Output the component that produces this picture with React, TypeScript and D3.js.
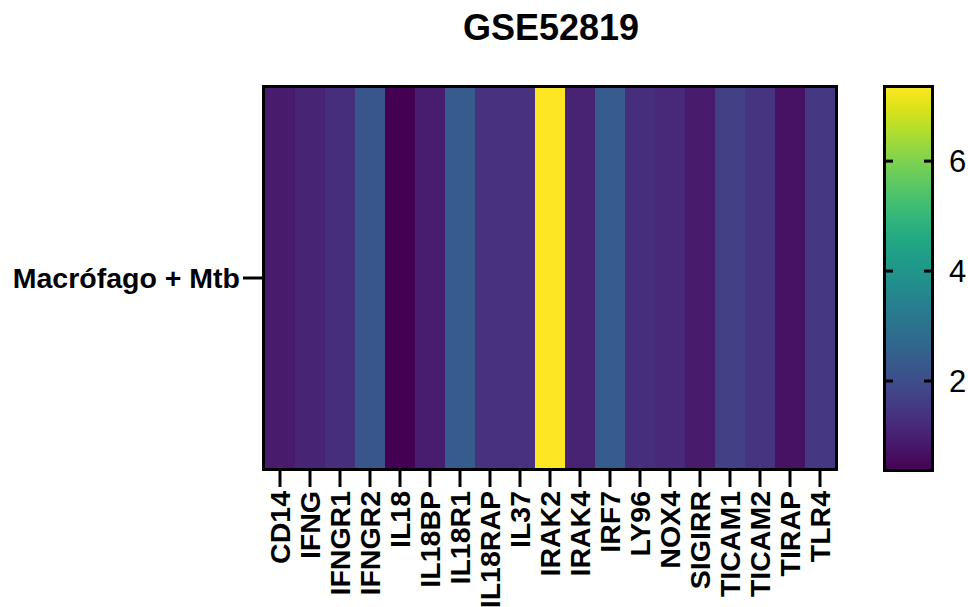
import React from 'react';
import * as d3 from 'd3';

// genes on the x axis
const genes = [
  'CD14', 'IFNG', 'IFNGR1', 'IFNGR2', 'IL18', 'IL18BP', 'IL18R1', 'IL18RAP', 'IL37', 'IRAK2',
  'IRAK4', 'IRF7', 'LY96', 'NOX4', 'SIGIRR', 'TICAM1', 'TICAM2', 'TIRAP', 'TLR4',
];
const rows = ['Macrófago + Mtb'];
const values = [0.9, 1.1, 1.3, 2.25, 0.42, 0.95, 2.4, 1.4, 1.4, 7.33, 1.05, 2.4, 1.3, 1.2, 0.9, 1.75, 1.45, 0.7, 1.5];
const colorDomain = [0.4, 7.33];
const colorTicks = [2, 4, 6];

const W = 968;
const H = 607;
const font = '"Liberation Sans", Arial, Helvetica, sans-serif';

const App = () => {
  const x = d3.scaleBand().domain(genes).range([265, 835]);
  const y = d3.scaleBand().domain(rows).range([88, 468]);
  const color = d3.scaleSequential(d3.interpolateViridis).domain(colorDomain);
  const cb = d3.scaleLinear().domain(colorDomain).range([469, 88]);

  const stops = d3.range(0, 1.0001, 0.05);

  return (
    <svg width={W} height={H} style={{ display: 'block', position: 'absolute', left: 0, top: 0 }}>
      <defs>
        <linearGradient id="cbar" x1="0%" y1="100%" x2="0%" y2="0%">
          {stops.map((t) => (
            <stop key={t} offset={`${t * 100}%`} stopColor={d3.interpolateViridis(t)} />
          ))}
        </linearGradient>
      </defs>

      <text x={551} y={40} textAnchor="middle" fontFamily={font} fontWeight="bold" fontSize={36}>
        GSE52819
      </text>

      {/* heatmap cells */}
      {rows.map((r) =>
        genes.map((g, i) => (
          <rect
            key={`${r}-${g}`}
            x={x(g)}
            y={y(r)}
            width={x.bandwidth() + 0.5}
            height={y.bandwidth()}
            fill={color(values[i])}
          />
        ))
      )}
      <rect x={263.5} y={86.5} width={573} height={383} fill="none" stroke="#000" strokeWidth={3} />

      {/* y axis */}
      {rows.map((r) => {
        const cy = (y(r) as number) + y.bandwidth() / 2;
        return (
          <g key={r}>
            <line x1={243} x2={263} y1={cy} y2={cy} stroke="#000" strokeWidth={3} />
            <text x={240} y={cy} dy="0.35em" textAnchor="end" fontFamily={font} fontWeight="bold" fontSize={28.5}>
              {r}
            </text>
          </g>
        );
      })}

      {/* x axis */}
      {genes.map((g) => {
        const cx = (x(g) as number) + x.bandwidth() / 2;
        return (
          <g key={g}>
            <line x1={cx} x2={cx} y1={470} y2={487} stroke="#000" strokeWidth={3} />
            <text
              transform={`translate(${cx},491) rotate(-90)`}
              dy="0.36em"
              textAnchor="end"
              fontFamily={font}
              fontWeight="bold"
              fontSize={28.5}
            >
              {g}
            </text>
          </g>
        );
      })}

      {/* colour bar */}
      <rect x={884.5} y={86.5} width={48} height={384} fill="url(#cbar)" stroke="#000" strokeWidth={3} />
      {colorTicks.map((t) => (
        <g key={t}>
          <line x1={886} x2={893} y1={cb(t)} y2={cb(t)} stroke="#000" strokeWidth={3} />
          <line x1={924} x2={931} y1={cb(t)} y2={cb(t)} stroke="#000" strokeWidth={3} />
          <text x={949} y={cb(t)} dy="0.36em" fontFamily={font} fontSize={31}>
            {t}
          </text>
        </g>
      ))}
    </svg>
  );
};

export default App;
